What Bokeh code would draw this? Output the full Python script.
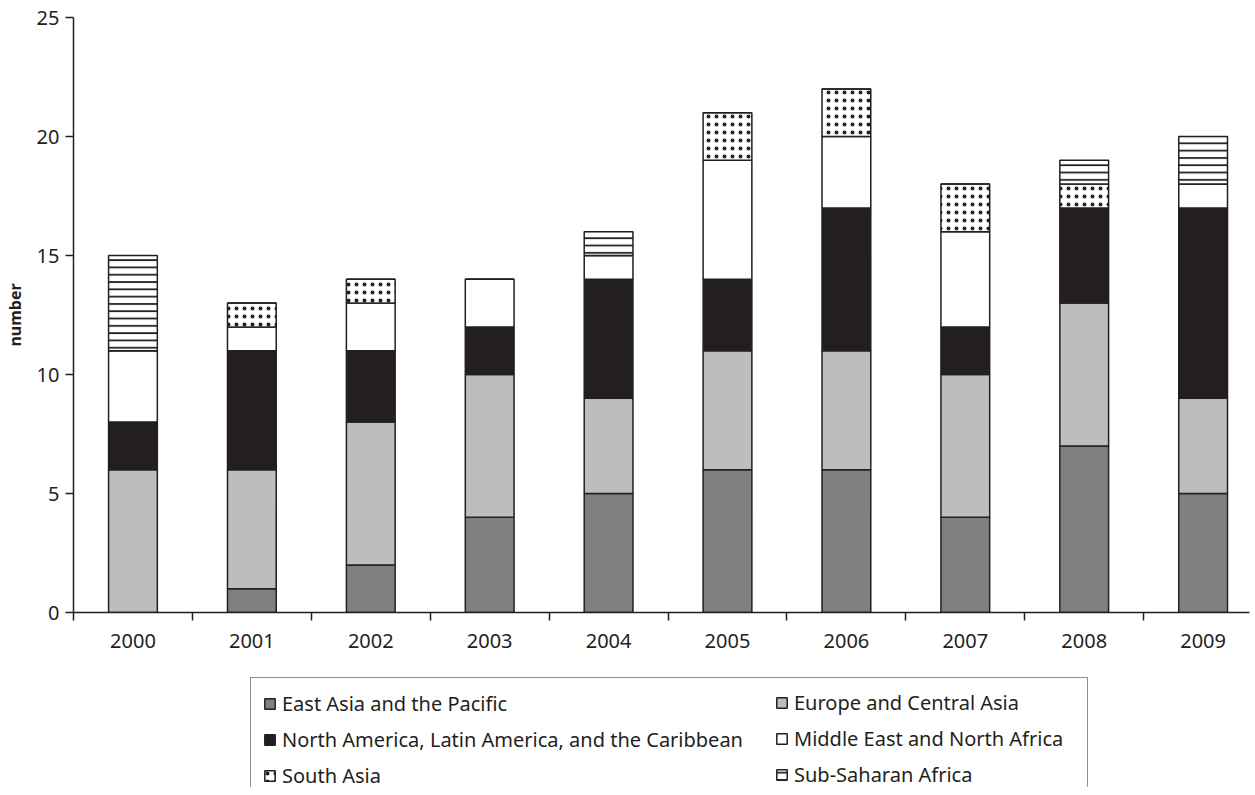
import numpy as np
from bokeh.plotting import figure
from bokeh.layouts import column
from bokeh.models import Range1d, FixedTicker, Legend, LegendItem
from bokeh.embed import file_html
from bokeh.resources import INLINE

years = ["2000", "2001", "2002", "2003", "2004", "2005", "2006", "2007", "2008", "2009"]

east_asia = [0, 1, 2, 4, 5, 6, 6, 4, 7, 5]
europe_central_asia = [6, 5, 6, 6, 4, 5, 5, 6, 6, 4]
americas = [2, 5, 3, 2, 5, 3, 6, 2, 4, 8]
middle_east = [3, 1, 2, 2, 1, 5, 3, 4, 0, 1]
south_asia = [0, 1, 1, 0, 0, 2, 2, 2, 1, 0]
sub_saharan = [4, 0, 0, 0, 1, 0, 0, 0, 1, 2]

series_names = [
    "East Asia and the Pacific",
    "Europe and Central Asia",
    "North America, Latin America, and the Caribbean",
    "Middle East and North Africa",
    "South Asia",
    "Sub-Saharan Africa",
]
series_values = [east_asia, europe_central_asia, americas, middle_east, south_asia, sub_saharan]
fill_colors = ["#808080", "#bcbdbf", "#231f20", "#ffffff", "#ffffff", "#ffffff"]
hatches = [None, None, None, None, "dot", "horizontal_line"]

y_ticks = [0, 5, 10, 15, 20, 25]

FONT = "Noto Sans"
INK = "#231f20"

x_pos = np.arange(len(years)) + 0.5


def style_kwargs(fc, hp):
    kw = dict(fill_color=fc, line_color=INK, line_width=1.5)
    if hp is not None:
        kw.update(hatch_pattern=hp, hatch_color=INK,
                  hatch_scale=8 if hp == "dot" else 7.3,
                  hatch_weight=3 if hp == "dot" else 1.8)
    return kw


# stacked bottoms / tops from the series
bottoms, tops = [], []
acc = np.zeros(len(years))
for vals in series_values:
    bottoms.append(acc.copy())
    acc = acc + np.array(vals, dtype=float)
    tops.append(acc.copy())

# ---------------- main chart ----------------
p = figure(
    width=1245, height=662,
    frame_width=1176, frame_height=595,
    x_range=Range1d(0, 9.89), y_range=Range1d(0, 25),
    output_backend="svg", toolbar_location=None,
    min_border_left=67, min_border_right=2, min_border_top=17,
    min_border_bottom=50,
)
p.outline_line_color = None
p.xgrid.visible = False
p.ygrid.visible = False

for b, t, fc, hp in zip(bottoms, tops, fill_colors, hatches):
    p.vbar(x=x_pos, bottom=b, top=t, width=0.41, **style_kwargs(fc, hp))

# x axis: labels at centers, ticks at category boundaries
xa = p.xaxis[0]
xa.ticker = FixedTicker(ticks=list(x_pos), minor_ticks=list(range(0, 11)))
xa.major_label_overrides = {float(x): y for x, y in zip(x_pos, years)}
xa.major_tick_line_color = None
xa.major_tick_out = 0
xa.major_tick_in = 0
xa.minor_tick_in = 0
xa.minor_tick_out = 8
xa.minor_tick_line_color = INK
xa.minor_tick_line_width = 1.5
xa.axis_line_color = INK
xa.axis_line_width = 1.5
xa.major_label_text_font = FONT
xa.major_label_text_font_size = "20px"
xa.major_label_text_color = INK
xa.major_label_standoff = 13

ya = p.yaxis[0]
ya.ticker = FixedTicker(ticks=y_ticks, minor_ticks=[])
ya.major_tick_in = 0
ya.major_tick_out = 8
ya.major_tick_line_color = INK
ya.major_tick_line_width = 1.5
ya.axis_line_color = INK
ya.axis_line_width = 1.5
ya.major_label_text_font = FONT
ya.major_label_text_font_size = "20px"
ya.major_label_text_color = INK
ya.major_label_standoff = 6
ya.axis_label = "number"
ya.axis_label_text_font = FONT
ya.axis_label_text_font_style = "bold"
ya.axis_label_text_font_size = "16px"
ya.axis_label_text_color = INK
ya.axis_label_standoff = 8

# ---------------- legend panel ----------------
# the same series as hidden renderers, so that only their legend swatches show
leg = figure(
    width=1245, height=125,
    x_range=Range1d(0, 9.89), y_range=Range1d(1000, 1001),
    x_axis_location=None, y_axis_location=None,
    output_backend="svg", toolbar_location=None,
    min_border_left=0, min_border_right=0, min_border_top=0, min_border_bottom=0,
)
leg.outline_line_color = None
leg.xgrid.visible = False
leg.ygrid.visible = False

items = []
for name, b, t, fc, hp in zip(series_names, bottoms, tops, fill_colors, hatches):
    r = leg.vbar(x=x_pos, bottom=b, top=t, width=0.41, **style_kwargs(fc, hp))
    r.visible = False
    items.append(LegendItem(label=name, renderers=[r]))

common = dict(
    label_text_font=FONT, label_text_font_size="20px", label_text_color=INK,
    glyph_width=13, glyph_height=13, label_standoff=6,
    label_height=13, spacing=9, padding=12, margin=0,
    click_policy="none", inactive_fill_alpha=0,
)
legend_left = Legend(
    items=[items[0], items[2], items[4]], location=(177, -15),
    border_line_color=INK, border_line_width=1.2, label_width=793,
    **common,
)
legend_right = Legend(
    items=[items[1], items[3], items[5]], location=(702, -1),
    border_line_color=None, background_fill_alpha=0,
    **common,
)
leg.add_layout(legend_left, "center")
leg.add_layout(legend_right, "center")

layout = column(p, leg, spacing=0)

open("out.html", "w").write(file_html(layout, INLINE))
